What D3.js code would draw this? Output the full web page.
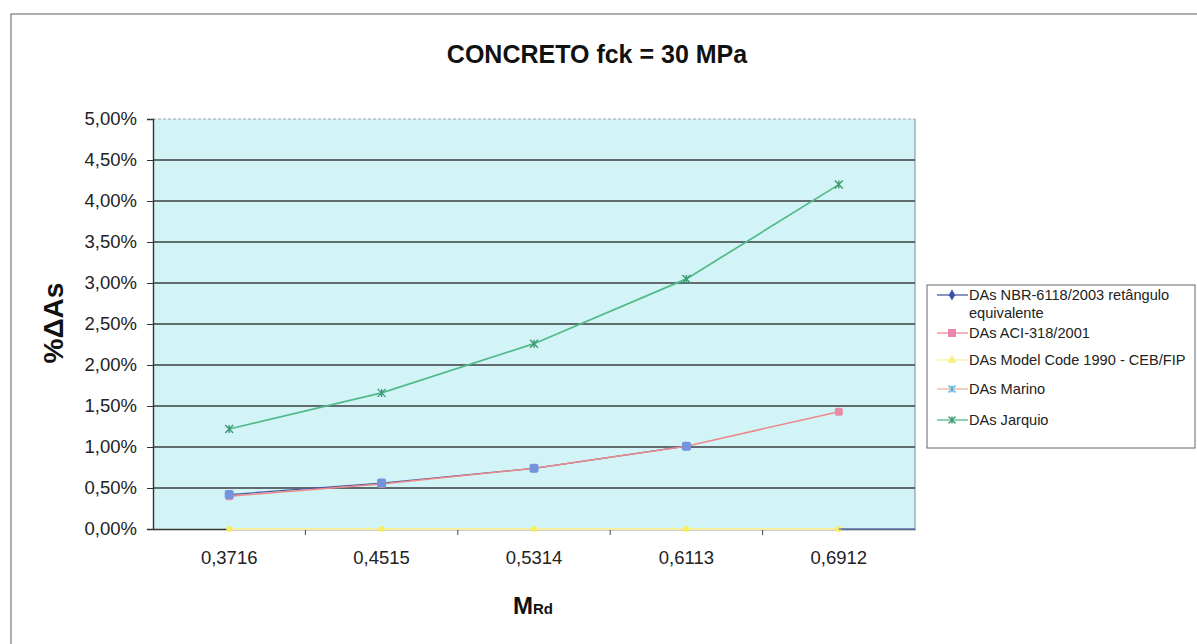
<!DOCTYPE html>
<html><head><meta charset="utf-8">
<script src="https://cdn.jsdelivr.net/npm/d3@7"></script>
<style>body{margin:0;background:#fff}svg{display:block}text{font-family:Arial,"Liberation Sans",sans-serif}</style>
</head><body><svg id="c" width="1197" height="644"></svg>
<script>
const categories = ["0,3716","0,4515","0,5314","0,6113","0,6912"];
const nbr = [0.0042, 0.0056, 0.0074, 0.0101, null];
const aci = [0.0040, 0.0055, 0.0074, 0.0101, 0.0143];
const modelCode = [0, 0, 0, 0, 0];
const marino = [null, null, null, null, null];
const jarquio = [0.0122, 0.0166, 0.0226, 0.0305, 0.0420];
const yTicks = [0,0.005,0.01,0.015,0.02,0.025,0.03,0.035,0.04,0.045,0.05];
const legendLabels = ["DAs NBR-6118/2003 retângulo|equivalente","DAs ACI-318/2001","DAs Model Code 1990 - CEB/FIP","DAs Marino","DAs Jarquio"];

const svg = d3.select("#c");
const L=153, R=915, T=119, B=529;
const x = d3.scaleBand().domain(categories).range([L,R]);
const cx = c => x(c)+x.bandwidth()/2;
const y = d3.scaleLinear().domain([0,0.05]).range([B,T]);
const loc = d3.formatLocale({decimal:",",thousands:".",grouping:[3],currency:["",""],percent:"%"});
const fmt = loc.format(".2%");
const FF = "Arial, 'Liberation Sans', sans-serif";

// outer border
svg.append("rect").attr("x",11).attr("y",14).attr("width",1200).attr("height",640)
  .attr("fill","none").attr("stroke","#7a7a7a").attr("stroke-width",1.2);

// title
svg.append("text").attr("x",597).attr("y",63).attr("text-anchor","middle")
  .attr("font-size",25).attr("font-weight","bold").attr("fill","#111").text("CONCRETO fck = 30 MPa");

// plot bg
svg.append("rect").attr("x",L).attr("y",T).attr("width",R-L).attr("height",B-T).attr("fill","#d3f4f7");
// top & right border
svg.append("line").attr("x1",L).attr("x2",R).attr("y1",T).attr("y2",T).attr("stroke","#9aa6ad").attr("stroke-width",1).attr("stroke-dasharray","3,2");
svg.append("line").attr("x1",R).attr("x2",R).attr("y1",T).attr("y2",B).attr("stroke","#8a9aae").attr("stroke-width",1.2);

// gridlines
svg.append("g").selectAll("line").data(yTicks.filter(d=>d>0 && d<0.05)).join("line")
  .attr("x1",L).attr("x2",R).attr("y1",d=>y(d)).attr("y2",d=>y(d))
  .attr("stroke","#3b3f40").attr("stroke-width",1.6);

// y axis
const ya = svg.append("g").attr("transform",`translate(${L},0)`)
  .call(d3.axisLeft(y).tickValues(yTicks).tickFormat(fmt).tickSize(6).tickPadding(10));
ya.select(".domain").attr("stroke","#333").attr("stroke-width",1.4);
ya.selectAll(".tick line").attr("stroke","#333");
ya.selectAll("text").attr("font-size",18.5).attr("fill","#222").attr("font-family",FF);

// x axis
const xa = svg.append("g").attr("transform",`translate(0,${B})`)
  .call(d3.axisBottom(x).tickSize(0).tickPadding(22));
xa.select(".domain").attr("stroke","#333").attr("stroke-width",1.4);
xa.selectAll("text").attr("font-size",18.5).attr("fill","#222").attr("font-family",FF);
svg.append("g").selectAll("line").data(categories.slice(1)).join("line")
  .attr("x1",d=>x(d)).attr("x2",d=>x(d)).attr("y1",B).attr("y2",B+6).attr("stroke","#444").attr("stroke-width",1);

// axis titles
const xt = svg.append("text").attr("x",533).attr("y",614).attr("text-anchor","middle").attr("font-weight","bold").attr("fill","#111");
xt.append("tspan").attr("font-size",24).text("M");
xt.append("tspan").attr("font-size",15).text("Rd");
svg.append("text").attr("transform","translate(63,323) rotate(-90)").attr("text-anchor","middle")
  .attr("font-size",28).attr("font-weight","bold").attr("fill","#111").text("%ΔAs");

const line = d3.line().defined(d=>d.v!=null).x(d=>cx(d.c)).y(d=>y(d.v));
const pts = arr => arr.map((v,i)=>({c:categories[i],v}));

// Model code yellow line at zero
svg.append("path").datum(pts(modelCode)).attr("d",line).attr("fill","none").attr("stroke","#f4f0a0").attr("stroke-width",2);
svg.append("g").selectAll("circle").data(pts(modelCode)).join("circle")
  .attr("cx",d=>cx(d.c)).attr("cy",d=>y(d.v)).attr("r",3).attr("fill","#f5ee60");
// right part of x axis bluish
svg.append("line").attr("x1",cx(categories[4])).attr("x2",R).attr("y1",B).attr("y2",B).attr("stroke","#6a7fb8").attr("stroke-width",1.6);

// Marino (no visible values)
svg.append("path").datum(pts(marino)).attr("d",line).attr("fill","none").attr("stroke","#e8b8a0");
// NBR line (under)
svg.append("path").datum(pts(nbr)).attr("d",line).attr("fill","none").attr("stroke","#4a5aa0").attr("stroke-width",1.3);
// ACI line
svg.append("path").datum(pts(aci)).attr("d",line).attr("fill","none").attr("stroke","#ec8a8a").attr("stroke-width",1.5);
svg.append("g").selectAll("rect").data(pts(aci)).join("rect")
  .attr("x",d=>cx(d.c)-4).attr("y",d=>y(d.v)-4).attr("width",8).attr("height",8).attr("rx",2).attr("fill","#e88aa6");
svg.append("g").selectAll("rect").data(pts(nbr).filter(d=>d.v!=null)).join("rect")
  .attr("x",d=>cx(d.c)-4.5).attr("y",d=>y(d.v)-4.5).attr("width",9).attr("height",9).attr("rx",2).attr("fill","#7393dc");

// Jarquio
svg.append("path").datum(pts(jarquio)).attr("d",line).attr("fill","none").attr("stroke","#52b98a").attr("stroke-width",1.7);
const star = (g, px, py, s, col) => {
  g.append("path").attr("d",`M${px-s},${py-s}L${px+s},${py+s}M${px-s},${py+s}L${px+s},${py-s}M${px},${py-s}L${px},${py+s}`)
   .attr("stroke",col).attr("stroke-width",1.4).attr("fill","none");
};
const jg = svg.append("g");
pts(jarquio).forEach(d=>star(jg, cx(d.c), y(d.v), 4, "#3c9a72"));

// legend
const lg = svg.append("g");
lg.append("rect").attr("x",927).attr("y",285).attr("width",268).attr("height",163).attr("fill","#fff").attr("stroke","#666").attr("stroke-width",1);
const ly = [295, 333, 360, 389, 420];
const lcol = ["#4a5aa0","#ec8a8a","#f4f0a0","#e8b8a0","#52b98a"];
ly.forEach((yy,i)=>{
  lg.append("line").attr("x1",937).attr("x2",968).attr("y1",yy).attr("y2",yy).attr("stroke",lcol[i]).attr("stroke-width",1.3);
  const parts = legendLabels[i].split("|");
  const t = lg.append("text").attr("x",969).attr("y",yy+5).attr("font-size",14.6).attr("fill","#222");
  t.append("tspan").text(parts[0]);
  if(parts[1]) t.append("tspan").attr("x",969).attr("dy",18).text(parts[1]);
});
lg.append("path").attr("d",d3.symbol(d3.symbolDiamond,36)()).attr("transform",`translate(952,${ly[0]})`).attr("fill","#3a4fa8");
lg.append("rect").attr("x",948).attr("y",ly[1]-4).attr("width",8).attr("height",8).attr("fill","#e888b0");
lg.append("path").attr("d",d3.symbol(d3.symbolTriangle,36)()).attr("transform",`translate(952,${ly[2]})`).attr("fill","#f5f080");
star(lg, 952, ly[3], 3.5, "#5ab0e0");
star(lg, 952, ly[4], 3.5, "#3c9a72");
</script></body></html>
